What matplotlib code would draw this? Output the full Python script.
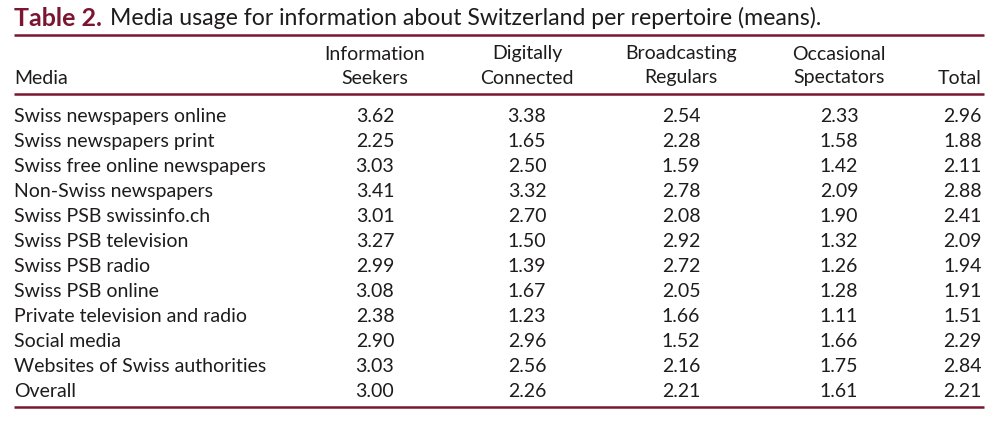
import matplotlib
matplotlib.use("Agg")
import matplotlib.pyplot as plt

media = ["Swiss newspapers online", "Swiss newspapers print", "Swiss free online newspapers",
         "Non-Swiss newspapers", "Swiss PSB swissinfo.ch", "Swiss PSB television",
         "Swiss PSB radio", "Swiss PSB online", "Private television and radio",
         "Social media", "Websites of Swiss authorities", "Overall"]
info_seekers = [3.62, 2.25, 3.03, 3.41, 3.01, 3.27, 2.99, 3.08, 2.38, 2.90, 3.03, 3.00]
digitally_connected = [3.38, 1.65, 2.50, 3.32, 2.70, 1.50, 1.39, 1.67, 1.23, 2.96, 2.56, 2.26]
broadcasting_regulars = [2.54, 2.28, 1.59, 2.78, 2.08, 2.92, 2.72, 2.05, 1.66, 1.52, 2.16, 2.21]
occasional_spectators = [2.33, 1.58, 1.42, 2.09, 1.90, 1.32, 1.26, 1.28, 1.11, 1.66, 1.75, 1.61]
total = [2.96, 1.88, 2.11, 2.88, 2.41, 2.09, 1.94, 1.91, 1.51, 2.29, 2.84, 2.21]
headers = ["Information\nSeekers", "Digitally\nConnected", "Broadcasting\nRegulars",
           "Occasional\nSpectators", "Total"]

maroon = "#7b1530"
ink = "#1e1b1c"
plt.rcParams['font.family'] = ['Lato', 'DejaVu Sans']

fig = plt.figure(figsize=(9.99, 4.39), dpi=100)
ax = fig.add_axes([0, 0, 1, 1])
ax.set_xlim(0, 999)
ax.set_ylim(439, 0)
ax.axis('off')

# title
t = ax.text(14, 18, "Table 2.", fontsize=18, fontweight='bold', color=maroon, va='center')
fig.canvas.draw()
bb = t.get_window_extent().transformed(ax.transData.inverted())
ax.text(bb.x1 + 8, 18, "Media usage for information about Switzerland per repertoire (means).",
        fontsize=16.6, color=ink, va='center')

# rules
for y in (36, 95, 408):
    ax.plot([14, 984], [y, y], color=maroon, lw=1.8, solid_capstyle='butt')

fs = 14
col_x = [375, 527, 681, 839]
ax.text(14, 78, "Media", fontsize=fs, color=ink, va='center')
for x, h in zip(col_x, headers[:4]):
    top, bottom = h.split("\n")
    ax.text(x, 54, top, fontsize=fs, color=ink, va='center', ha='center')
    ax.text(x, 78, bottom, fontsize=fs, color=ink, va='center', ha='center')
ax.text(982, 78, headers[4], fontsize=fs, color=ink, va='center', ha='right')

cols = [info_seekers, digitally_connected, broadcasting_regulars, occasional_spectators]
for i, name in enumerate(media):
    y = 117 + 25 * i
    ax.text(14, y, name, fontsize=fs, color=ink, va='center')
    for x, vals in zip(col_x, cols):
        ax.text(x, y, f"{vals[i]:.2f}", fontsize=fs, color=ink, va='center', ha='center')
    ax.text(982, y, f"{total[i]:.2f}", fontsize=fs, color=ink, va='center', ha='right')

fig.savefig("out.png", dpi=100)
